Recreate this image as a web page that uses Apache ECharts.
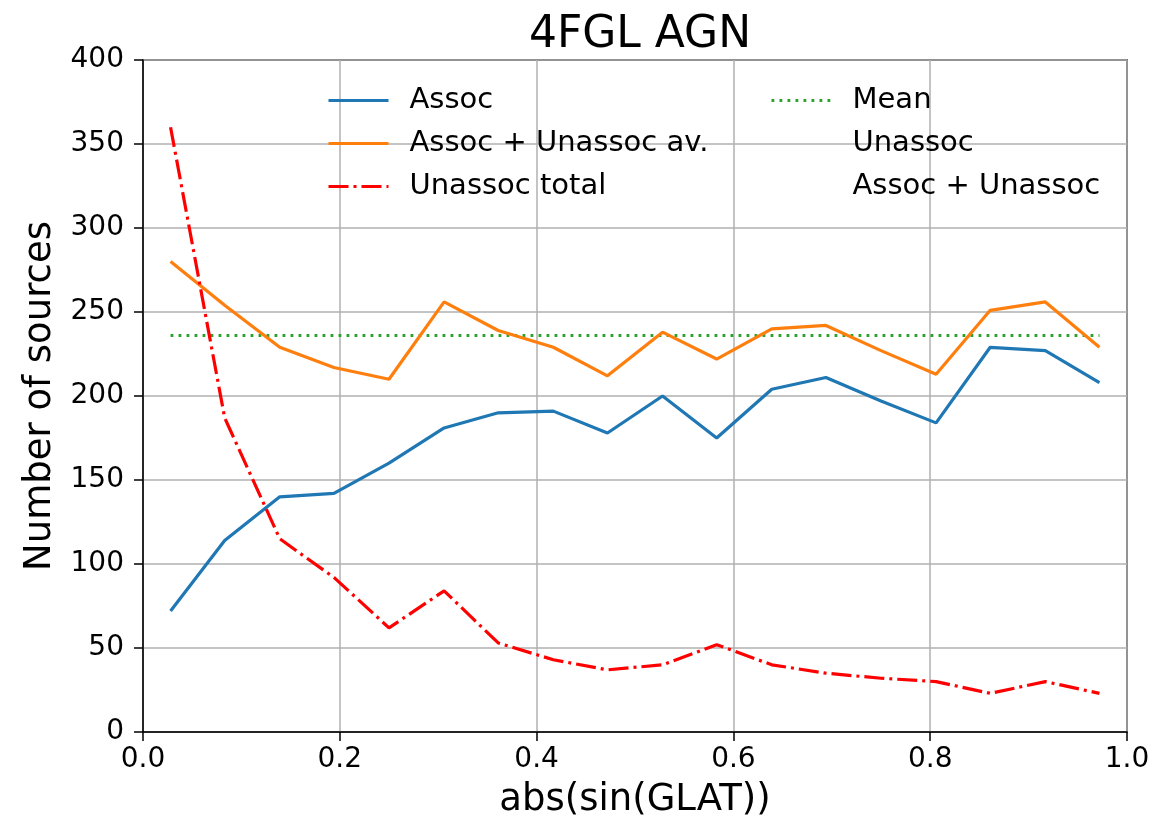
<!DOCTYPE html>
<html>
<head>
<meta charset="utf-8">
<script src="https://cdn.jsdelivr.net/npm/echarts@6/dist/echarts.min.js"></script>
<style>html,body{margin:0;padding:0;background:#fff;}#chart{width:1173px;height:824px;}</style>
</head>
<body>
<div id="chart"></div>
<script>
const binCenters = [0.028, 0.083, 0.139, 0.194, 0.250, 0.306, 0.361, 0.417, 0.472, 0.528, 0.583, 0.639, 0.694, 0.750, 0.806, 0.861, 0.917, 0.972];
const assoc = [72, 114, 140, 142, 160, 181, 190, 191, 178, 200, 175, 204, 211, 197, 184, 229, 227, 208];
const assocPlusUnassocAv = [280, 254, 229, 217, 210, 256, 239, 229, 212, 238, 222, 240, 242, 227, 213, 251, 256, 229];
const unassocTotal = [360, 187, 115, 92, 62, 84, 53, 43, 37, 40, 52, 40, 35, 32, 30, 23, 30, 23];
const meanValue = 236;
const meanRange = [0.028, 0.972];
const xTicks = [0, 0.2, 0.4, 0.6, 0.8, 1.0];
const yTicks = [0, 50, 100, 150, 200, 250, 300, 350, 400];

const FONT = '"DejaVu Sans", sans-serif';
const pair = (xs, ys) => xs.map((x, i) => [x, ys[i]]);

const legendCommon = {
  orient: 'vertical', top: 86, padding: 0, itemWidth: 60, itemHeight: 14, itemGap: 14,
  selectedMode: false,
  itemStyle: {opacity: 0, borderWidth: 0},
  lineStyle: {width: 3},
  textStyle: {fontFamily: FONT, fontSize: 29, color: '#000', lineHeight: 29, padding: [0, 0, 0, 16]}
};

const chart = echarts.init(document.getElementById('chart'), null, {renderer: 'canvas'});
chart.setOption({
  animation: false,
  backgroundColor: '#fff',
  title: {
    text: '4FGL AGN', left: 635, top: 9, textAlign: 'center',
    textStyle: {fontFamily: FONT, fontSize: 44, fontWeight: 'normal', color: '#000'}
  },
  legend: [
    Object.assign({data: ['Assoc', 'Assoc + Unassoc av.', 'Unassoc total'], left: 327}, legendCommon),
    Object.assign({data: ['Mean', 'Unassoc', 'Assoc + Unassoc'], left: 770}, legendCommon)
  ],
  grid: {left: 143, right: 46, top: 60, bottom: 90, show: true, borderColor: '#000', borderWidth: 1.5, backgroundColor: 'transparent'},
  xAxis: {
    type: 'value', min: 0, max: 1, interval: 0.2,
    name: 'abs(sin(GLAT))', nameLocation: 'middle', nameGap: 50,
    nameTextStyle: {fontFamily: FONT, fontSize: 37, color: '#000'},
    axisLine: {show: true, onZero: false, lineStyle: {color: '#000', width: 1.5}},
    axisTick: {show: true, length: 9, lineStyle: {color: '#000', width: 1.5}},
    axisLabel: {fontFamily: FONT, fontSize: 28, color: '#000', margin: 14, formatter: v => v.toFixed(1)},
    splitLine: {show: true, lineStyle: {color: '#b0b0b0', width: 1.5}}
  },
  yAxis: {
    type: 'value', min: 0, max: 400, interval: 50,
    name: 'Number of sources', nameLocation: 'middle', nameGap: 84,
    nameTextStyle: {fontFamily: FONT, fontSize: 37, color: '#000'},
    axisLine: {show: true, lineStyle: {color: '#000', width: 1.5}},
    axisTick: {show: true, length: 9, lineStyle: {color: '#000', width: 1.5}},
    axisLabel: {fontFamily: FONT, fontSize: 28, color: '#000', margin: 19},
    splitLine: {show: true, lineStyle: {color: '#b0b0b0', width: 1.5}}
  },
  series: [
    {name: 'Assoc', type: 'line', data: pair(binCenters, assoc), symbol: 'none', color: '#1f77b4',
     lineStyle: {color: '#1f77b4', width: 3.2}, z: 3},
    {name: 'Assoc + Unassoc av.', type: 'line', data: pair(binCenters, assocPlusUnassocAv), symbol: 'none', color: '#ff7f0e',
     lineStyle: {color: '#ff7f0e', width: 3.2}, z: 4},
    {name: 'Unassoc total', type: 'line', data: pair(binCenters, unassocTotal), symbol: 'none', color: '#ff0000',
     lineStyle: {color: '#ff0000', width: 3.2, type: [20, 5, 3, 5]}, z: 5},
    {name: 'Mean', type: 'line', data: meanRange.map(x => [x, meanValue]), symbol: 'none', color: '#2ca02c',
     lineStyle: {color: '#2ca02c', width: 2.8, type: [2.8, 5.2]}, z: 2},
    {name: 'Unassoc', type: 'line', data: [], symbol: 'none', color: 'rgba(0,0,0,0)',
     lineStyle: {color: 'rgba(0,0,0,0)', width: 0}},
    {name: 'Assoc + Unassoc', type: 'line', data: [], symbol: 'none', color: 'rgba(0,0,0,0)',
     lineStyle: {color: 'rgba(0,0,0,0)', width: 0}}
  ]
});
</script>
</body>
</html>
